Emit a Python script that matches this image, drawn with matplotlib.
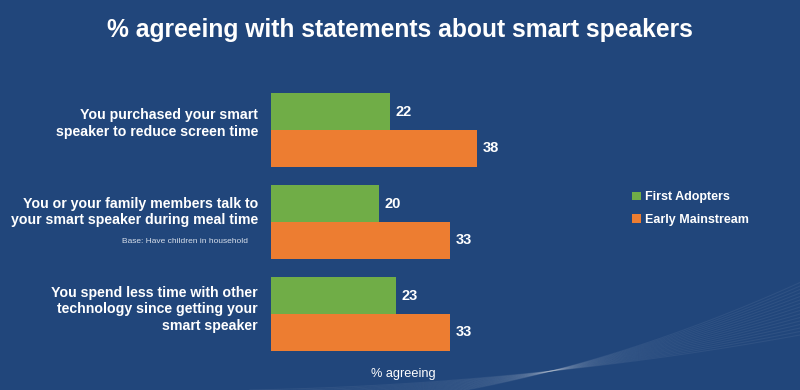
import numpy as np
import matplotlib
matplotlib.use("Agg")
import matplotlib.pyplot as plt

# data
statements = [
    "You purchased your smart\nspeaker to reduce screen time",
    "You or your family members talk to\nyour smart speaker during meal time",
    "You spend less time with other\ntechnology since getting your\nsmart speaker",
]
first_adopters = [22, 20, 23]
early_mainstream = [38, 33, 33]
series_names = ["First Adopters", "Early Mainstream"]

bg = "#21467b"
green = "#70ad47"
orange = "#ed7d31"

plt.rcParams["font.family"] = ["Liberation Sans", "DejaVu Sans"]

fig = plt.figure(figsize=(8, 3.9), dpi=100, facecolor=bg)

# faint decorative swoosh lines in the lower right
deco = fig.add_axes([0, 0, 1, 1], zorder=0)
deco.set_xlim(0, 800)
deco.set_ylim(390, 0)
deco.axis("off")
t = np.linspace(0, 1, 200)
for k in range(16):
    xs = 250 + 550 * t
    ys = 390 - (45 + k * 5) * t ** 2 - 10 * t + k * 1.5
    deco.plot(xs, ys, color="white", alpha=0.06, lw=0.8)

# main axes: px 271..542 horizontally, 80..365 vertically
ax = fig.add_axes([271 / 800, 1 - 365 / 390, (542 - 271) / 800, (365 - 80) / 390], zorder=1)
ax.set_facecolor("none")
y = np.arange(len(statements))
h = 37 / 92
ax.barh(y - h / 2, first_adopters, height=h, color=green, label=series_names[0])
ax.barh(y + h / 2, early_mainstream, height=h, color=orange, label=series_names[1])
ax.set_xlim(0, 50)
ax.set_ylim((365 - 130) / 92, (80 - 130) / 92)
ax.axis("off")

for yi, v in zip(y - h / 2, first_adopters):
    ax.text(v + 1, yi, str(v), color="white", fontsize=10.5, fontweight="bold", va="center", ha="left")
for yi, v in zip(y + h / 2, early_mainstream):
    ax.text(v + 1, yi, str(v), color="white", fontsize=10.5, fontweight="bold", va="center", ha="left")

offsets = [-0.07, -0.11, -0.05]
for yi, s, off in zip(y, statements, offsets):
    ax.text(-2.4, yi + off, s, color="white", fontsize=10.2, fontweight="bold",
            ha="right", va="center", linespacing=1.22)
ax.text(-4.3, 1 + 0.21, "Base: Have children in household", color="#d6deea",
        fontsize=6, ha="right", va="center")

ax.text((403 - 271) / 5.42, (374 - 130) / 92, "% agreeing", color="white", fontsize=9.2,
        ha="center", va="center", clip_on=False)

fig.text(0.5, 1 - 30 / 390, "% agreeing with statements about smart speakers",
         color="white", fontsize=17.7, fontweight="bold", ha="center", va="center")

fig.legend(loc="upper left", bbox_to_anchor=(621 / 800, 1 - 180 / 390), frameon=False,
           labelcolor="white", handlelength=0.7, handleheight=0.7,
           handletextpad=0.3, labelspacing=0.85, prop={"weight": "bold", "size": 9})

fig.savefig("out.png", dpi=100, facecolor=bg)
